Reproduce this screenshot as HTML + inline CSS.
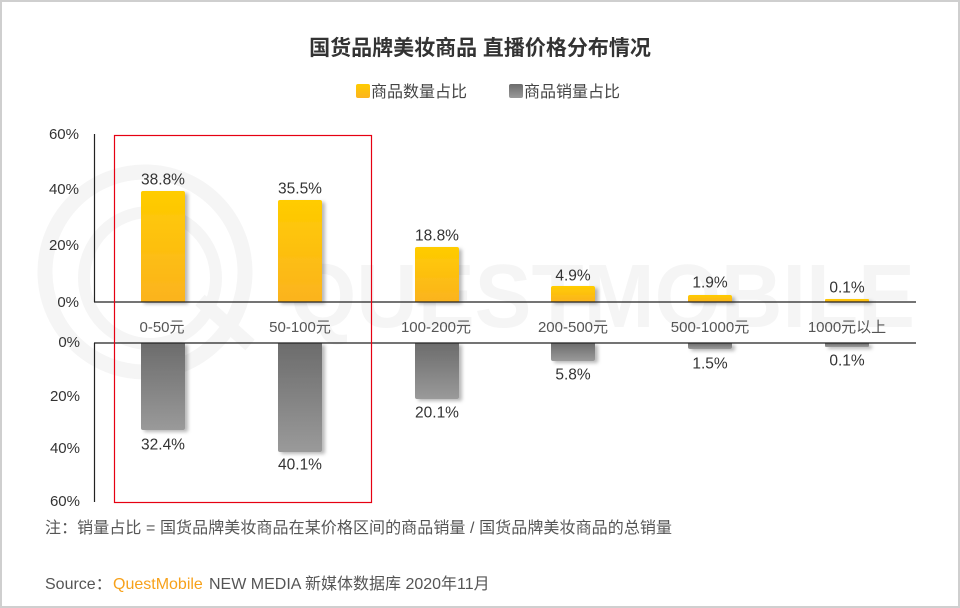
<!DOCTYPE html>
<html><head><meta charset="utf-8"><style>
html,body{margin:0;padding:0;background:#fff}
svg{display:block}
text{font-family:"Liberation Sans","Noto Sans CJK SC",sans-serif}
</style></head><body>
<svg width="960" height="608" viewBox="0 0 960 608" xmlns="http://www.w3.org/2000/svg">
<defs>
<linearGradient id="gy" x1="0" y1="0" x2="0" y2="1"><stop offset="0" stop-color="#ffcc00"/><stop offset="1" stop-color="#fbb31f"/></linearGradient>
<linearGradient id="gg" x1="0" y1="0" x2="0" y2="1"><stop offset="0" stop-color="#6c6c6c"/><stop offset="1" stop-color="#9a9a9a"/></linearGradient>
<filter id="sh" x="-30%" y="-30%" width="170%" height="170%"><feDropShadow dx="3" dy="2" stdDeviation="1.8" flood-color="#000" flood-opacity="0.28"/></filter>
</defs>
<rect x="1" y="1" width="958" height="606" fill="#fff" stroke="#cfcfcf" stroke-width="2"/>
<!-- watermark -->
<g fill="none" stroke="#f5f5f5">
<circle cx="145" cy="272" r="100" stroke-width="15"/>
<circle cx="150" cy="278" r="66" stroke-width="12"/>
<line x1="200" y1="300" x2="250" y2="345" stroke-width="14"/>
</g>
<text x="290" y="327" font-size="90" font-weight="bold" fill="#f5f5f5" textLength="625" lengthAdjust="spacingAndGlyphs">QUESTMOBILE</text>

<!-- title -->
<text x="480" y="55" font-size="21" font-weight="bold" fill="#333" text-anchor="middle">国货品牌美妆商品 直播价格分布情况</text>
<!-- legend -->
<rect x="356" y="84" width="14" height="14" rx="2" fill="url(#gy)"/>
<text x="371" y="97" font-size="16" fill="#444">商品数量占比</text>
<rect x="509" y="84" width="14" height="14" rx="2" fill="url(#gg)"/>
<text x="524" y="97" font-size="16" fill="#444">商品销量占比</text>

<!-- y labels -->
<g font-size="15" fill="#333" text-anchor="end">
<text x="79" y="139">60%</text>
<text x="79" y="194">40%</text>
<text x="79" y="250">20%</text>
<text x="79" y="307">0%</text>
<text x="80" y="347">0%</text>
<text x="80" y="401">20%</text>
<text x="80" y="453">40%</text>
<text x="80" y="506">60%</text>
</g>

<!-- bars top -->
<g filter="url(#sh)" fill="url(#gy)">
<path d="M141 302V193a2 2 0 0 1 2-2h40a2 2 0 0 1 2 2V302z"/>
<path d="M278 302V202a2 2 0 0 1 2-2h40a2 2 0 0 1 2 2V302z"/>
<path d="M415 302V249a2 2 0 0 1 2-2h40a2 2 0 0 1 2 2V302z"/>
<path d="M551 302V288a2 2 0 0 1 2-2h40a2 2 0 0 1 2 2V302z"/>
<path d="M688 302V297a2 2 0 0 1 2-2h40a2 2 0 0 1 2 2V302z"/>
<path d="M825 302V300a1 1 0 0 1 1-1h42a1 1 0 0 1 1 1V302z"/>
</g>
<!-- bars bottom -->
<g filter="url(#sh)" fill="url(#gg)">
<path d="M141 343V428a2 2 0 0 0 2 2h40a2 2 0 0 0 2-2V343z"/>
<path d="M278 343V450a2 2 0 0 0 2 2h40a2 2 0 0 0 2-2V343z"/>
<path d="M415 343V397a2 2 0 0 0 2 2h40a2 2 0 0 0 2-2V343z"/>
<path d="M551 343V359a2 2 0 0 0 2 2h40a2 2 0 0 0 2-2V343z"/>
<path d="M688 343V347a2 2 0 0 0 2 2h40a2 2 0 0 0 2-2V343z"/>
<path d="M825 343V346a1 1 0 0 0 1 1h42a1 1 0 0 0 1-1V343z"/>
</g>

<!-- axes -->
<g stroke="#222" stroke-width="1.2" fill="none">
<line x1="94.5" y1="134" x2="94.5" y2="302"/>
<line x1="94" y1="302" x2="916" y2="302"/>
<line x1="94.5" y1="343" x2="94.5" y2="502"/>
<line x1="94" y1="343" x2="916" y2="343"/>
</g>

<!-- value labels -->
<g font-size="15.5" fill="#333" text-anchor="middle">
<text x="163" y="184.5">38.8%</text>
<text x="300" y="193.5">35.5%</text>
<text x="437" y="240.5">18.8%</text>
<text x="573" y="280.5">4.9%</text>
<text x="710" y="287.5">1.9%</text>
<text x="847" y="292.5">0.1%</text>
<text x="163" y="449.5">32.4%</text>
<text x="300" y="469.5">40.1%</text>
<text x="437" y="417.5">20.1%</text>
<text x="573" y="379.5">5.8%</text>
<text x="710" y="368.5">1.5%</text>
<text x="847" y="365.5">0.1%</text>
</g>
<!-- categories -->
<g font-size="15" fill="#555" text-anchor="middle">
<text x="162" y="332">0-50元</text>
<text x="300" y="332">50-100元</text>
<text x="436" y="332">100-200元</text>
<text x="573" y="332">200-500元</text>
<text x="710" y="332">500-1000元</text>
<text x="847" y="332">1000元以上</text>
</g>

<!-- red box -->
<rect x="114.5" y="135.5" width="257" height="367" fill="none" stroke="#e60012" stroke-width="1.2"/>

<!-- note -->
<text x="45" y="533" font-size="16" fill="#555" textLength="627" lengthAdjust="spacing">注：销量占比 = 国货品牌美妆商品在某价格区间的商品销量 / 国货品牌美妆商品的总销量</text>
<!-- source -->
<g font-size="16" fill="#555">
<text x="45" y="589">Source：</text>
<text x="113" y="589" fill="#f7a11a">QuestMobile</text>
<text x="209" y="589">NEW MEDIA 新媒体数据库 2020年11月</text>
</g>
</svg>
</body></html>
